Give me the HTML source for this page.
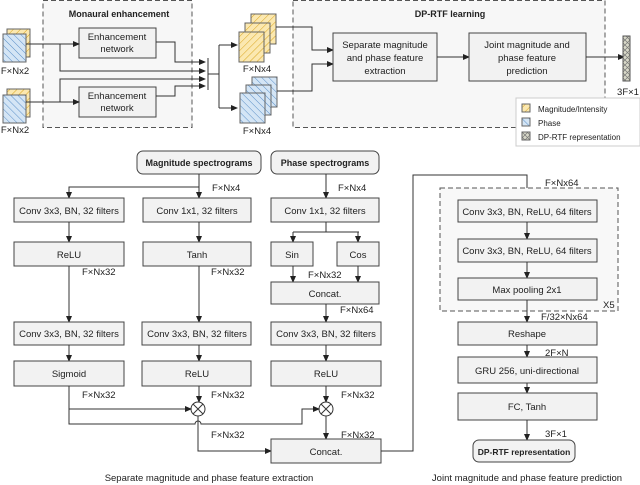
<!DOCTYPE html>
<html><head><meta charset="utf-8"><style>
html,body{margin:0;padding:0;background:#fff}
svg{display:block}
text{font-family:"Liberation Sans",sans-serif;font-size:9.5px;fill:#222}
.b{fill:#f2f2f2;stroke:#444;stroke-width:1}
.l{fill:none;stroke:#333;stroke-width:1}
.d{fill:none;stroke:#555;stroke-width:1;stroke-dasharray:5,3}
.t{text-anchor:middle}
.bold{font-weight:bold;font-size:9px}
</style></head><body>
<svg width="640" height="485" viewBox="0 0 640 485" xmlns="http://www.w3.org/2000/svg">
<defs>
<marker id="a" markerWidth="7" markerHeight="6" refX="6" refY="3" orient="auto" markerUnits="userSpaceOnUse"><path d="M0,0 L7,3 L0,6z" fill="#222"/></marker>
<pattern id="py" width="5" height="5" patternUnits="userSpaceOnUse" patternTransform="rotate(45)"><rect width="5" height="5" fill="#fbe8b0"/><line x1="0" y1="0" x2="0" y2="5" stroke="#d9a520" stroke-width="1"/></pattern>
<pattern id="pb" width="5" height="5" patternUnits="userSpaceOnUse" patternTransform="rotate(-45)"><rect width="5" height="5" fill="#d4e5f5"/><line x1="0" y1="0" x2="0" y2="5" stroke="#5b8fc7" stroke-width="1"/></pattern>
<pattern id="pg" width="5" height="5" patternUnits="userSpaceOnUse"><rect width="5" height="5" fill="#d8d8c8"/><path d="M0,0 L5,5 M5,0 L0,5" stroke="#777" stroke-width="0.7"/></pattern>
</defs>

<rect x="43" y="0.5" width="149" height="127" class="d" style="fill:#f7f7f7"/>
<rect x="293" y="0.5" width="312" height="127" class="d" style="fill:#f7f7f7"/>
<text x="119" y="17" class="t bold">Monaural enhancement</text>
<text x="450" y="17" class="t bold">DP-RTF learning</text>

<rect x="7" y="29" width="23" height="28" fill="url(#py)" stroke="#666"/>
<rect x="3" y="34" width="23" height="28" fill="url(#pb)" stroke="#666"/>
<text x="15" y="74" class="t">F×Nx2</text>
<rect x="7" y="89" width="23" height="28" fill="url(#py)" stroke="#666"/>
<rect x="3" y="95" width="23" height="28" fill="url(#pb)" stroke="#666"/>
<text x="15" y="133" class="t">F×Nx2</text>

<rect x="79" y="28" width="77" height="30" class="b"/>
<text x="117" y="40" class="t">Enhancement</text><text x="117" y="52" class="t">network</text>
<rect x="79" y="87" width="77" height="30" class="b"/>
<text x="117" y="99" class="t">Enhancement</text><text x="117" y="111" class="t">network</text>

<path d="M26,44 H79" class="l" marker-end="url(#a)"/>
<path d="M60,44 V71 H205" class="l" marker-end="url(#a)"/>
<path d="M156,42 H175 V62 H205" class="l" marker-end="url(#a)"/>
<path d="M26,102 H79" class="l" marker-end="url(#a)"/>
<path d="M60,102 V79 H205" class="l" marker-end="url(#a)"/>
<path d="M156,96 H175 V86 H205" class="l" marker-end="url(#a)"/>
<path d="M208,58 V90" class="l"/>
<path d="M208,74 H219 M219,45 V108" class="l"/>
<path d="M219,45 H237" class="l" marker-end="url(#a)"/>
<path d="M219,108 H237" class="l" marker-end="url(#a)"/>

<rect x="251" y="14" width="25" height="30" fill="url(#py)" stroke="#666"/>
<rect x="245" y="23" width="25" height="30" fill="url(#py)" stroke="#666"/>
<rect x="239" y="32" width="25" height="30" fill="url(#py)" stroke="#666"/>
<text x="257" y="72" class="t">F×Nx4</text>
<rect x="252" y="77" width="25" height="30" fill="url(#pb)" stroke="#666"/>
<rect x="246" y="85" width="25" height="30" fill="url(#pb)" stroke="#666"/>
<rect x="240" y="93" width="25" height="30" fill="url(#pb)" stroke="#666"/>
<text x="257" y="134" class="t">F×Nx4</text>

<path d="M276,27 H312 V50 H333" class="l" marker-end="url(#a)"/>
<path d="M277,91 H312 V64 H333" class="l" marker-end="url(#a)"/>

<rect x="333" y="33" width="104" height="48" class="b"/>
<text x="385" y="48" class="t">Separate magnitude</text>
<text x="385" y="61" class="t">and phase feature</text>
<text x="385" y="74" class="t">extraction</text>
<path d="M437,57 H469" class="l" marker-end="url(#a)"/>
<rect x="469" y="33" width="117" height="48" class="b"/>
<text x="527" y="48" class="t">Joint magnitude and</text>
<text x="527" y="61" class="t">phase feature</text>
<text x="527" y="74" class="t">prediction</text>
<path d="M586,57 H624" class="l" marker-end="url(#a)"/>
<rect x="623" y="36" width="7" height="45" fill="url(#pg)" stroke="#555"/>
<text x="628" y="95" class="t">3F×1</text>

<rect x="516" y="98" width="124" height="48" fill="#fff" stroke="#ccc"/>
<rect x="522" y="104" width="8" height="8" fill="url(#py)" stroke="#666"/>
<rect x="522" y="118" width="8" height="8" fill="url(#pb)" stroke="#666"/>
<rect x="522" y="132" width="8" height="8" fill="url(#pg)" stroke="#666"/>
<text x="538" y="112" style="font-size:8px">Magnitude/Intensity</text>
<text x="538" y="126" style="font-size:8px">Phase</text>
<text x="538" y="140" style="font-size:8px">DP-RTF representation</text>

<rect x="137" y="151" width="124" height="23" rx="6" class="b"/>
<text x="199" y="166" class="t bold">Magnitude spectrograms</text>
<rect x="271" y="151" width="108" height="23" rx="6" class="b"/>
<text x="325" y="166" class="t bold">Phase spectrograms</text>

<path d="M199,174 V187 H69 V198" class="l" marker-end="url(#a)"/>
<path d="M199,187 V198" class="l" marker-end="url(#a)"/>
<text x="212" y="191">F×Nx4</text>
<path d="M326,174 V198" class="l" marker-end="url(#a)"/>
<text x="338" y="191">F×Nx4</text>

<rect x="14" y="198" width="110" height="24" class="b"/><text x="69" y="214" class="t">Conv 3x3, BN, 32 filters</text>
<rect x="143" y="198" width="108" height="24" class="b"/><text x="197" y="214" class="t">Conv 1x1, 32 filters</text>
<rect x="271" y="198" width="108" height="24" class="b"/><text x="325" y="214" class="t">Conv 1x1, 32 filters</text>

<path d="M69,222 V242" class="l" marker-end="url(#a)"/>
<path d="M199,222 V242" class="l" marker-end="url(#a)"/>
<path d="M326,222 V232 M293,232 H359" class="l"/>
<path d="M293,232 V242" class="l" marker-end="url(#a)"/>
<path d="M358,232 V242" class="l" marker-end="url(#a)"/>

<rect x="14" y="242" width="110" height="24" class="b"/><text x="69" y="258" class="t">ReLU</text>
<rect x="143" y="242" width="108" height="24" class="b"/><text x="197" y="258" class="t">Tanh</text>
<rect x="271" y="242" width="42" height="24" class="b"/><text x="292" y="258" class="t">Sin</text>
<rect x="337" y="242" width="42" height="24" class="b"/><text x="358" y="258" class="t">Cos</text>

<text x="82" y="275">F×Nx32</text>
<text x="211" y="275">F×Nx32</text>
<text x="308" y="278">F×Nx32</text>
<path d="M293,266 V282" class="l" marker-end="url(#a)"/>
<path d="M358,266 V282" class="l" marker-end="url(#a)"/>
<rect x="271" y="282" width="108" height="22" class="b"/><text x="325" y="297" class="t">Concat.</text>
<text x="340" y="313">F×Nx64</text>

<path d="M69,266 V322" class="l" marker-end="url(#a)"/>
<path d="M199,266 V322" class="l" marker-end="url(#a)"/>
<path d="M326,304 V322" class="l" marker-end="url(#a)"/>

<rect x="14" y="322" width="110" height="23" class="b"/><text x="69" y="337" class="t">Conv 3x3, BN, 32 filters</text>
<rect x="142" y="322" width="109" height="23" class="b"/><text x="197" y="337" class="t">Conv 3x3, BN, 32 filters</text>
<rect x="271" y="322" width="110" height="23" class="b"/><text x="326" y="337" class="t">Conv 3x3, BN, 32 filters</text>

<path d="M69,345 V361" class="l" marker-end="url(#a)"/>
<path d="M199,345 V361" class="l" marker-end="url(#a)"/>
<path d="M326,345 V361" class="l" marker-end="url(#a)"/>

<rect x="14" y="361" width="110" height="25" class="b"/><text x="69" y="377" class="t">Sigmoid</text>
<rect x="142" y="361" width="109" height="25" class="b"/><text x="197" y="377" class="t">ReLU</text>
<rect x="271" y="361" width="110" height="25" class="b"/><text x="326" y="377" class="t">ReLU</text>

<text x="82" y="398">F×Nx32</text>
<text x="211" y="398">F×Nx32</text>
<text x="341" y="398">F×Nx32</text>

<path d="M199,386 V402" class="l" marker-end="url(#a)"/>
<path d="M326,386 V402" class="l" marker-end="url(#a)"/>
<circle cx="198" cy="409" r="7" fill="#fff" stroke="#333"/>
<path d="M193,404 L203,414 M203,404 L193,414" class="l"/>
<circle cx="326" cy="409" r="7" fill="#fff" stroke="#333"/>
<path d="M321,404 L331,414 M331,404 L321,414" class="l"/>

<path d="M69,386 V409 H191" class="l" marker-end="url(#a)"/>
<path d="M69,409 V424 H195 A3,3 0 0 1 201,424 H302 V409 H319" class="l" marker-end="url(#a)"/>
<path d="M198,416 V451 H271" class="l" marker-end="url(#a)"/>
<path d="M326,416 V439" class="l" marker-end="url(#a)"/>
<text x="211" y="438">F×Nx32</text>
<text x="341" y="438">F×Nx32</text>
<rect x="271" y="439" width="110" height="24" class="b"/><text x="326" y="455" class="t">Concat.</text>

<path d="M381,451 H413 V175 H527 V200" class="l" marker-end="url(#a)"/>

<rect x="440" y="188" width="178" height="123" class="d" style="fill:#f8f8f8"/>
<text x="545" y="186">F×Nx64</text>
<text x="603" y="308">X5</text>
<rect x="458" y="200" width="139" height="22" class="b"/><text x="527" y="215" class="t">Conv 3x3, BN, ReLU, 64 filters</text>
<path d="M527,222 V239" class="l" marker-end="url(#a)"/>
<rect x="458" y="239" width="139" height="23" class="b"/><text x="527" y="254" class="t">Conv 3x3, BN, ReLU, 64 filters</text>
<path d="M527,262 V278" class="l" marker-end="url(#a)"/>
<rect x="458" y="278" width="139" height="22" class="b"/><text x="527" y="293" class="t">Max pooling 2x1</text>
<path d="M527,300 V322" class="l" marker-end="url(#a)"/>
<text x="541" y="320">F/32×Nx64</text>
<rect x="458" y="322" width="139" height="23" class="b"/><text x="527" y="337" class="t">Reshape</text>
<path d="M527,345 V357" class="l" marker-end="url(#a)"/>
<text x="545" y="356">2F×N</text>
<rect x="458" y="357" width="139" height="26" class="b"/><text x="527" y="374" class="t">GRU 256, uni-directional</text>
<path d="M527,383 V393" class="l" marker-end="url(#a)"/>
<rect x="458" y="393" width="139" height="27" class="b"/><text x="527" y="410" class="t">FC, Tanh</text>
<path d="M527,420 V440" class="l" marker-end="url(#a)"/>
<text x="545" y="437">3F×1</text>
<rect x="473" y="440" width="102" height="22" rx="6" class="b"/><text x="524" y="455" class="t bold" style="font-size:8.5px">DP-RTF representation</text>

<text x="209" y="481" class="t">Separate magnitude and phase  feature extraction</text>
<text x="527" y="481" class="t">Joint magnitude and phase feature prediction</text>
</svg>
</body></html>
